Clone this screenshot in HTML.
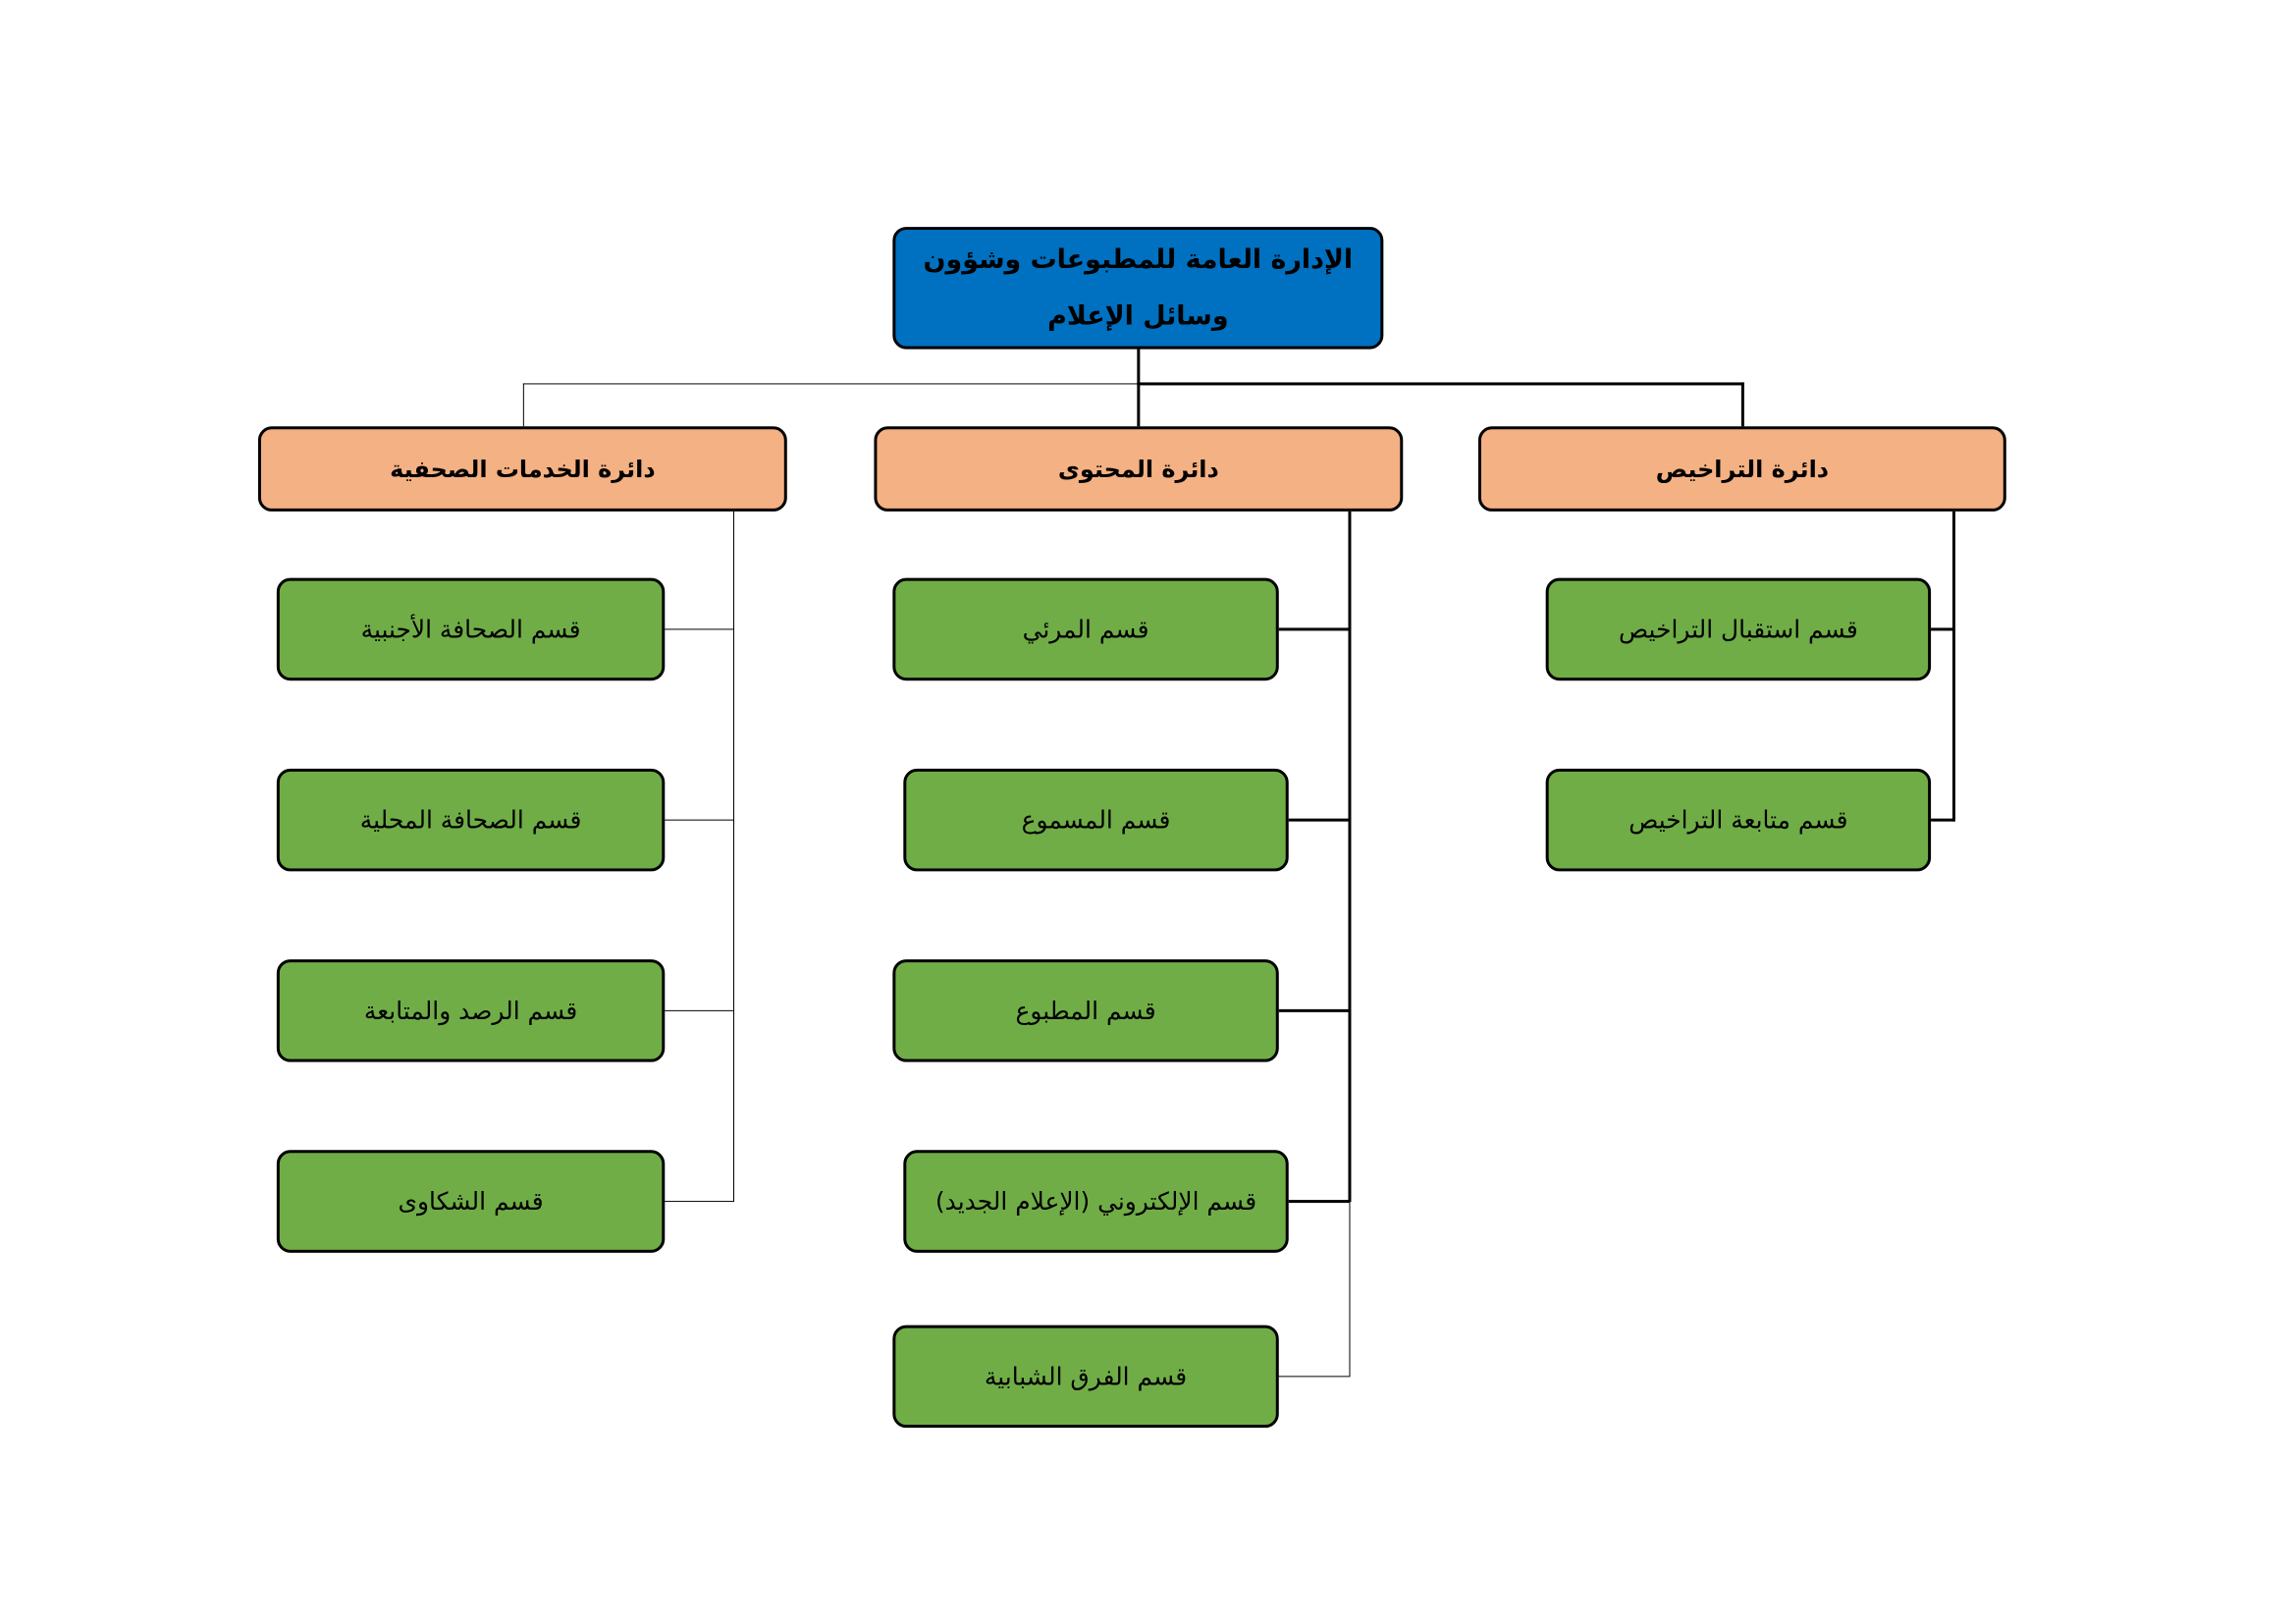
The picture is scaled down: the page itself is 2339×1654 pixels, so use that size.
<!DOCTYPE html>
<html><head><meta charset="utf-8"><style>
body{margin:0;width:2339px;height:1654px;background:#fff;position:relative;overflow:hidden;font-family:"DejaVu Sans","Liberation Sans",sans-serif;}
#w{position:absolute;left:0;top:0;width:2339px;height:1654px;transform:scale(0.996);transform-origin:0 0;}
.b{position:absolute;box-sizing:border-box;border:3.5px solid #000;border-radius:14px;display:flex;align-items:center;justify-content:center;text-align:center;direction:rtl;color:#000;}
.top{background:#0070C0;font-weight:bold;font-size:27px;line-height:58px;}
.d{background:#F4B183;font-weight:bold;font-size:24px;}
.g{background:#70AD47;font-size:25px;height:105px;}
.l{position:absolute;background:#000;}
</style></head><body><div id="w">
<div class="b top" style="left:913px;top:232px;width:502px;height:125px;">الإدارة العامة للمطبوعات وشؤون<br>وسائل الإعلام</div>

<div class="l" style="left:1163px;top:357px;width:3px;height:79px;"></div>
<div class="l" style="left:535px;top:392px;width:629px;height:1px;"></div>
<div class="l" style="left:1163px;top:391px;width:621px;height:3px;"></div>
<div class="l" style="left:535px;top:392px;width:1px;height:44px;"></div>
<div class="l" style="left:1781px;top:391px;width:3px;height:45px;"></div>

<div class="b d" style="left:264px;top:436px;width:541px;height:87px;">دائرة الخدمات الصحفية</div>
<div class="b d" style="left:894px;top:436px;width:541px;height:87px;">دائرة المحتوى</div>
<div class="b d" style="left:1512px;top:436px;width:540px;height:87px;">دائرة التراخيص</div>

<div class="l" style="left:750px;top:523px;width:1px;height:706px;"></div>
<div class="l" style="left:680px;top:643px;width:70px;height:1px;"></div>
<div class="l" style="left:680px;top:838px;width:70px;height:1px;"></div>
<div class="l" style="left:680px;top:1033px;width:70px;height:1px;"></div>
<div class="l" style="left:680px;top:1228px;width:70px;height:1px;"></div>

<div class="l" style="left:1379px;top:523px;width:3px;height:706px;"></div>
<div class="l" style="left:1380px;top:1228px;width:1px;height:180px;"></div>
<div class="l" style="left:1308px;top:642px;width:72px;height:3px;"></div>
<div class="l" style="left:1318px;top:837px;width:62px;height:3px;"></div>
<div class="l" style="left:1308px;top:1032px;width:72px;height:3px;"></div>
<div class="l" style="left:1318px;top:1227px;width:62px;height:3px;"></div>
<div class="l" style="left:1308px;top:1407px;width:72px;height:1px;"></div>

<div class="l" style="left:1997px;top:523px;width:3px;height:317px;"></div>
<div class="l" style="left:1975px;top:642px;width:24px;height:3px;"></div>
<div class="l" style="left:1975px;top:837px;width:24px;height:3px;"></div>

<div class="b g" style="left:283px;top:591px;width:397px;">قسم الصحافة الأجنبية</div>
<div class="b g" style="left:283px;top:786px;width:397px;">قسم الصحافة المحلية</div>
<div class="b g" style="left:283px;top:981px;width:397px;">قسم الرصد والمتابعة</div>
<div class="b g" style="left:283px;top:1176px;width:397px;">قسم الشكاوى</div>

<div class="b g" style="left:913px;top:591px;width:395px;">قسم المرئي</div>
<div class="b g" style="left:924px;top:786px;width:394px;">قسم المسموع</div>
<div class="b g" style="left:913px;top:981px;width:395px;">قسم المطبوع</div>
<div class="b g" style="left:924px;top:1176px;width:394px;">قسم الإلكتروني (الإعلام الجديد)</div>
<div class="b g" style="left:913px;top:1355px;width:395px;">قسم الفرق الشبابية</div>

<div class="b g" style="left:1581px;top:591px;width:394px;">قسم استقبال التراخيص</div>
<div class="b g" style="left:1581px;top:786px;width:394px;">قسم متابعة التراخيص</div>
</div></body></html>
